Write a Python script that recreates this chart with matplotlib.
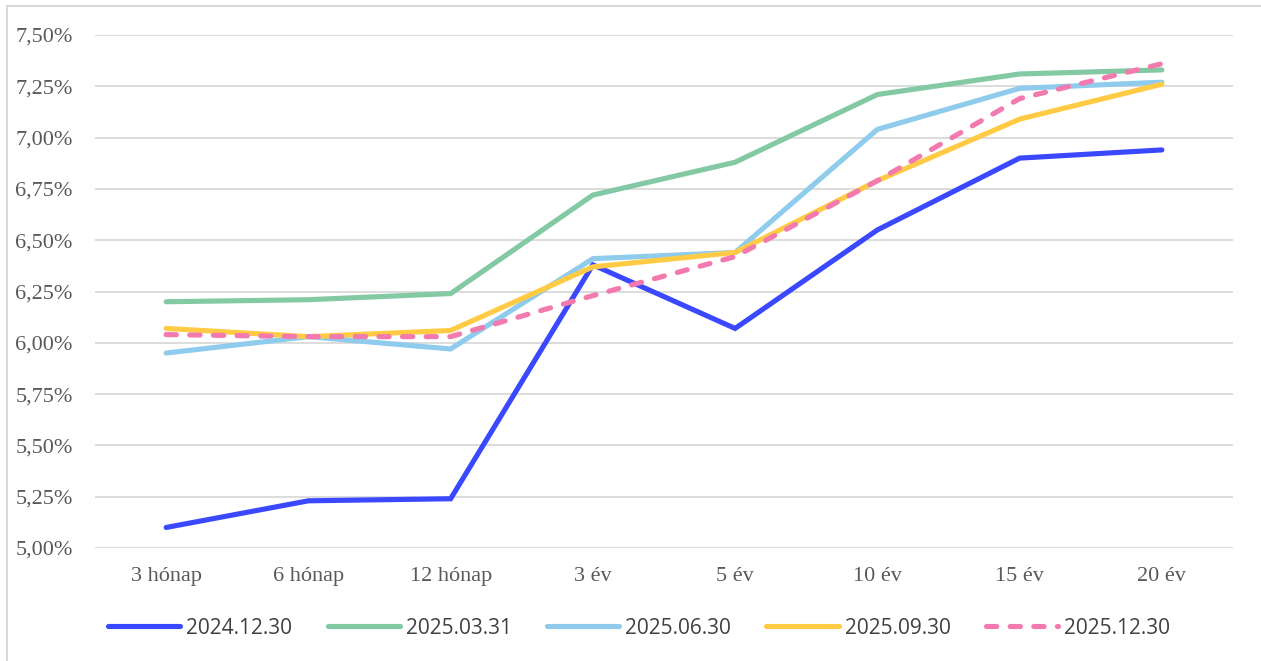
import matplotlib
matplotlib.use("Agg")
import matplotlib.pyplot as plt
from matplotlib.lines import Line2D
from matplotlib.ticker import FuncFormatter, MultipleLocator

categories = ["3 hónap", "6 hónap", "12 hónap", "3 év", "5 év", "10 év", "15 év", "20 év"]
s_2024_12_30 = [5.10, 5.23, 5.24, 6.38, 6.07, 6.55, 6.90, 6.94]
s_2025_03_31 = [6.20, 6.21, 6.24, 6.72, 6.88, 7.21, 7.31, 7.33]
s_2025_06_30 = [5.95, 6.03, 5.97, 6.41, 6.44, 7.04, 7.24, 7.27]
s_2025_09_30 = [6.07, 6.03, 6.06, 6.37, 6.44, 6.79, 7.09, 7.26]
s_2025_12_30 = [6.04, 6.03, 6.03, 6.23, 6.42, 6.79, 7.19, 7.36]
series_labels = ["2024.12.30", "2025.03.31", "2025.06.30", "2025.09.30", "2025.12.30"]

colors = ["#3A48FF", "#82C9A4", "#8ECBEC", "#FFCB45", "#F27AAE"]

W, H = 1261, 661
fig = plt.figure(figsize=(W / 100, H / 100), dpi=100)
fig.patch.set_facecolor("white")

ax = fig.add_axes([95 / W, 1 - 548 / H, (1233 - 95) / W, (548 - 35) / H])
x = list(range(len(categories)))
lw = 3.7
data = [s_2024_12_30, s_2025_03_31, s_2025_06_30, s_2025_09_30, s_2025_12_30]
handles = []
for i, (vals, lab, c) in enumerate(zip(data, series_labels, colors)):
    if i == 4:
        ln, = ax.plot(x, vals, color=c, lw=lw, label=lab, solid_capstyle="round",
                      dash_capstyle="round", dashes=(2.0, 2.6), zorder=3 + i)
    else:
        ln, = ax.plot(x, vals, color=c, lw=lw, label=lab, solid_capstyle="round",
                      solid_joinstyle="miter", zorder=3 + i)
    handles.append(ln)

ax.set_xlim(-0.5, len(categories) - 0.5)
ax.set_ylim(5.0, 7.5)
ax.yaxis.set_major_locator(MultipleLocator(0.25))
ax.yaxis.set_major_formatter(FuncFormatter(lambda v, p: f"{v:.2f}%".replace(".", ",")))
ax.set_xticks(x)
ax.set_xticklabels(categories)
ax.grid(axis="y", color="#D9D9D9", lw=1.3, zorder=0)
for s in ax.spines.values():
    s.set_visible(False)
ax.tick_params(axis="both", length=0, colors="#595959", labelsize=16)
ax.tick_params(axis="y", pad=16)
ax.tick_params(axis="x", pad=14)
for t in ax.get_xticklabels() + ax.get_yticklabels():
    t.set_fontfamily("Liberation Serif")
    t.set_color("#595959")

leg = fig.legend(handles=handles, labels=series_labels, loc="center",
                 bbox_to_anchor=(639 / W, 1 - 628 / H), ncol=5, frameon=False,
                 prop={"family": "Open Sans", "size": 15},
                 handlelength=3.46, handletextpad=0.29, columnspacing=1.7)
for t in leg.get_texts():
    t.set_color("#404040")

# chart area border
fig.add_artist(Line2D([7 / W, 7 / W], [0, 1 - 6 / H], transform=fig.transFigure,
                      color="#D9D9D9", lw=1.5))
fig.add_artist(Line2D([7 / W, 1], [1 - 6 / H, 1 - 6 / H], transform=fig.transFigure,
                      color="#D9D9D9", lw=1.5))

fig.savefig("out.png", dpi=100, facecolor="white")
